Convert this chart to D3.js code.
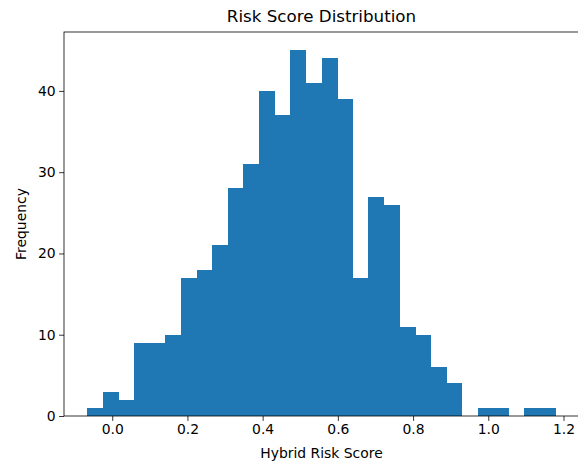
<!DOCTYPE html>
<html><head><meta charset="utf-8">
<script src="https://cdn.jsdelivr.net/npm/d3@7"></script>
<style>body{margin:0;background:#fff}svg{display:block}text{font-family:"DejaVu Sans",sans-serif;fill:#000}</style>
</head><body>
<script>
const binMin = -0.066, binMax = 1.179;
const counts = [1,3,2,9,9,10,17,18,21,28,31,40,37,45,41,44,39,17,27,26,11,10,6,4,0,1,1,0,1,1];
const xTicks = [0.0,0.2,0.4,0.6,0.8,1.0,1.2];
const yTicks = [0,10,20,30,40];
const title = "Risk Score Distribution", xLabel = "Hybrid Risk Score", yLabel = "Frequency";

const W = 578, H = 463;
const m = {left:64, top:32, right:579, bottom:416};
const nb = counts.length, bw = (binMax-binMin)/nb;
const bins = counts.map((c,i)=>({x0:binMin+i*bw, x1:binMin+(i+1)*bw, c}));
const span = binMax-binMin;
const x = d3.scaleLinear().domain([binMin-0.05*span, binMax+0.05*span]).range([m.left, m.right]);
const y = d3.scaleLinear().domain([0, d3.max(counts)*1.05]).range([m.bottom, m.top]);

const svg = d3.select("body").append("svg").attr("width",W).attr("height",H);
svg.append("g").attr("shape-rendering","crispEdges").selectAll("rect").data(bins.filter(b=>b.c>0)).join("rect")
  .attr("x",d=>x(d.x0)).attr("width",d=>x(d.x1)-x(d.x0)+0.5)
  .attr("y",d=>y(d.c)).attr("height",d=>y(0)-y(d.c))
  .attr("fill","#1f77b4");

const xa = svg.append("g").attr("transform",`translate(0,${m.bottom})`)
  .call(d3.axisBottom(x).tickValues(xTicks).tickFormat(d3.format(".1f")).tickSize(4.9).tickPadding(3.5));
const ya = svg.append("g").attr("transform",`translate(${m.left},0)`)
  .call(d3.axisLeft(y).tickValues(yTicks).tickFormat(d3.format("d")).tickSize(4.9).tickPadding(3.5));
[xa,ya].forEach(a=>{a.select(".domain").remove();a.selectAll("text").attr("font-size","13.9px").attr("font-family","DejaVu Sans");a.selectAll("line").attr("stroke","#000").attr("stroke-width",0.8);});

svg.append("rect").attr("x",m.left).attr("y",m.top).attr("width",m.right-m.left).attr("height",m.bottom-m.top)
  .attr("fill","none").attr("stroke","#000").attr("stroke-width",0.8);

svg.append("text").attr("x",(m.left+m.right)/2).attr("y",m.top-10).attr("text-anchor","middle").attr("font-size","16.7px").text(title);
svg.append("text").attr("x",(m.left+m.right)/2).attr("y",458).attr("text-anchor","middle").attr("font-size","13.9px").text(xLabel);
svg.append("text").attr("transform",`translate(26,${(m.top+m.bottom)/2}) rotate(-90)`).attr("text-anchor","middle").attr("font-size","13.9px").text(yLabel);
</script>
</body></html>
